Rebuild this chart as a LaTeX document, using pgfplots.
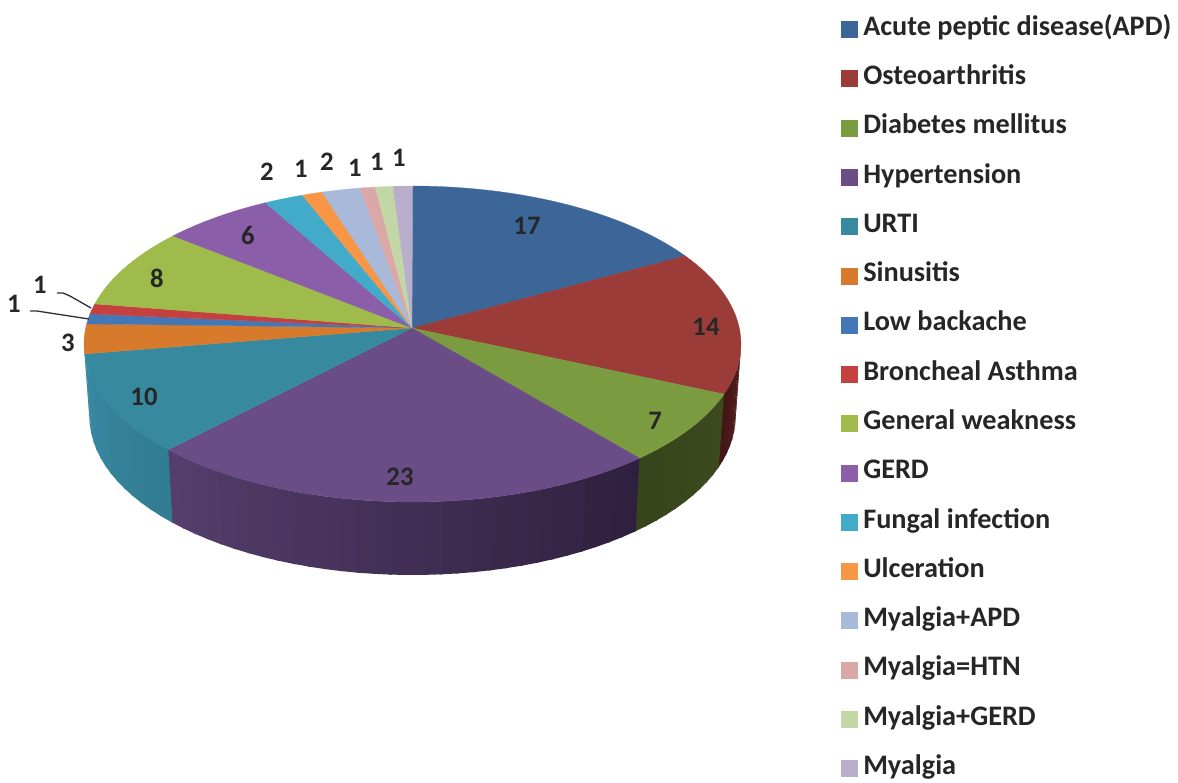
\documentclass[border=0pt]{standalone}
\usepackage{pgfplots}
\pgfplotsset{compat=1.18}
\usepackage{fontspec}
\setmainfont{Carlito}
\definecolor{c1}{HTML}{3D6698}\definecolor{c2}{HTML}{9C3C38}\definecolor{c3}{HTML}{7B9B40}
\definecolor{c4}{HTML}{6A4C87}\definecolor{c5}{HTML}{37899F}\definecolor{c6}{HTML}{D87A2B}
\definecolor{c7}{HTML}{4477B5}\definecolor{c8}{HTML}{C5413F}\definecolor{c9}{HTML}{9EBB4C}
\definecolor{c10}{HTML}{8A5EA8}\definecolor{c11}{HTML}{42ABC9}\definecolor{c12}{HTML}{F79646}
\definecolor{c13}{HTML}{A8B9D9}\definecolor{c14}{HTML}{DBA8A8}\definecolor{c15}{HTML}{C3D6A5}
\definecolor{c16}{HTML}{B9AECB}
\definecolor{s2a}{HTML}{5A2423}\definecolor{s2b}{HTML}{421716}
\definecolor{s3a}{HTML}{3D4A1E}\definecolor{s3b}{HTML}{37451C}
\definecolor{s4a}{HTML}{2E1F3D}\definecolor{s4b}{HTML}{543E6B}
\definecolor{s5a}{HTML}{2F7B90}\definecolor{s5b}{HTML}{3A8AA5}
% top ellipse: x=412.5+328.5 sin t, y=344-158 cos t; side base: x=412.5+323 sin t, y=417-158 cos t
\newcommand\BuildTop[2]{%
  \gdef\pts{(412,328)}%
  \pgfmathtruncatemacro\nn{max(1,ceil((#2-#1)/2))}%
  \foreach \i in {0,...,\nn}{%
    \pgfmathsetmacro\tt{#1+(#2-#1)*\i/\nn}%
    \pgfmathsetmacro\xx{412.5+328.5*sin(\tt)}%
    \pgfmathsetmacro\yy{344-158*cos(\tt)}%
    \xdef\pts{\pts (\xx,\yy)}%
  }%
  \xdef\pts{\pts (412,328)}%
}
\newcommand\BuildSide[2]{%
  \pgfmathsetmacro\xa{412.5+328.5*sin(#1)}\pgfmathsetmacro\ya{344-158*cos(#1)}%
  \pgfmathsetmacro\xb{412.5+328.5*sin(#2)}\pgfmathsetmacro\yb{344-158*cos(#2)}%
  \pgfmathsetmacro\xc{412.5+323*sin(#2)}\pgfmathsetmacro\yc{417-158*cos(#2)}%
  \pgfmathsetmacro\xd{412.5+323*sin(#1)}\pgfmathsetmacro\yd{417-158*cos(#1)}%
  \xdef\pts{(\xa,\ya)(\xb,\yb)(\xc,\yc)(\xd,\yd)(\xa,\ya)}%
}
\begin{document}
\begin{tikzpicture}
\useasboundingbox (0,0) rectangle (883.5pt,586.5pt);
\begin{axis}[at={(0,0)},anchor=south west,scale only axis,width=883.5pt,height=586.5pt,
  xmin=0,xmax=1178,ymin=0,ymax=782,y dir=reverse,hide axis,clip=false,
  legend image code/.code={\fill[#1] (0pt,-6pt) rectangle (12pt,6pt);\path (16.5pt,0pt);},
  legend cell align=left,
  legend style={at={(axis cs:841,18)},anchor=north west,draw=none,fill=none,
    font=\fontsize{21.2}{22}\selectfont\bfseries,row sep=19.95pt,inner sep=0pt,outer sep=0pt,
    nodes={inner sep=0pt,text height=13pt,text depth=4pt,text=black!85}}]
% side wall: start, end, colour at start, colour at end (strips overlap, later ones on top)
\foreach \ta/\tb/\ca/\cb in {90/108.5/s2a/s2b,108.5/136.3/s3a/s3b,136.3/228/s4a/s4b,228/269.5/s5a/s5b}{
  \pgfmathtruncatemacro\ns{max(1,ceil((\tb-\ta)/3))}
  \foreach \k in {1,...,\ns}{
    \pgfmathsetmacro\sa{\ta+(\tb-\ta)*(\k-1)/\ns}
    \pgfmathsetmacro\sb{\ta+(\tb-\ta)*\k/\ns+0.5}
    \pgfmathtruncatemacro\pc{100-100*\k/\ns}
    \BuildSide{\sa}{\sb}
    \edef\temp{\noexpand\addplot[forget plot,fill=\ca!\pc!\cb,draw=none] coordinates {\pts};}
    \temp
  }
}
% top face: slice boundaries, colour, name
\foreach \ta/\tb/\c/\nm in {
  0/56.1/c1/{Acute peptic disease(APD)},
  56.1/108.5/c2/{Osteoarthritis},
  108.5/136.3/c3/{Diabetes mellitus},
  136.3/228/c4/{Hypertension},
  228/266.4/c5/{URTI},
  266.4/277.3/c6/{Sinusitis},
  277.3/281/c7/{Low backache},
  281/284.7/c8/{Broncheal Asthma},
  284.7/313.2/c9/{General weakness},
  313.2/333.4/c10/{GERD},
  333.4/340.4/c11/{Fungal infection},
  340.4/344/c12/{Ulceration},
  344/350.8/c13/{Myalgia+APD},
  350.8/353.5/c14/{Myalgia=HTN},
  353.5/356.6/c15/{Myalgia+GERD},
  356.6/360/c16/{Myalgia}}{
  \BuildTop{\ta}{\tb}
  \edef\temp{\noexpand\addplot[fill=\c,draw=\c,line width=.2pt] coordinates {\pts};
    \noexpand\addlegendentry{\nm}}
  \temp
}
% leader lines
\addplot[forget plot,black!80,line width=1pt] coordinates {(57,293)(63,293)(70,296)(91,308)};
\addplot[forget plot,black!80,line width=1pt] coordinates {(30,311)(37,311)(50,313)(89,319)};
% data labels
\pgfkeys{/lbl/.style={font=\fontsize{20}{21}\selectfont\bfseries,text=black!85,inner sep=0pt}}
\foreach \x/\y/\v in {527/226/17,706/327/14,655/421/7,400/477/23,144/397/10,68/343/3,14/304/1,40/285/1,157/278/8,248/235/6,267/172/2,301/169/1,327/162/2,355/168/1,377/162/1,399/158/1}{
  \edef\temp{\noexpand\node[/lbl] at (axis cs:\x,\y) {\v};}
  \temp
}
\end{axis}
\end{tikzpicture}
\end{document}
